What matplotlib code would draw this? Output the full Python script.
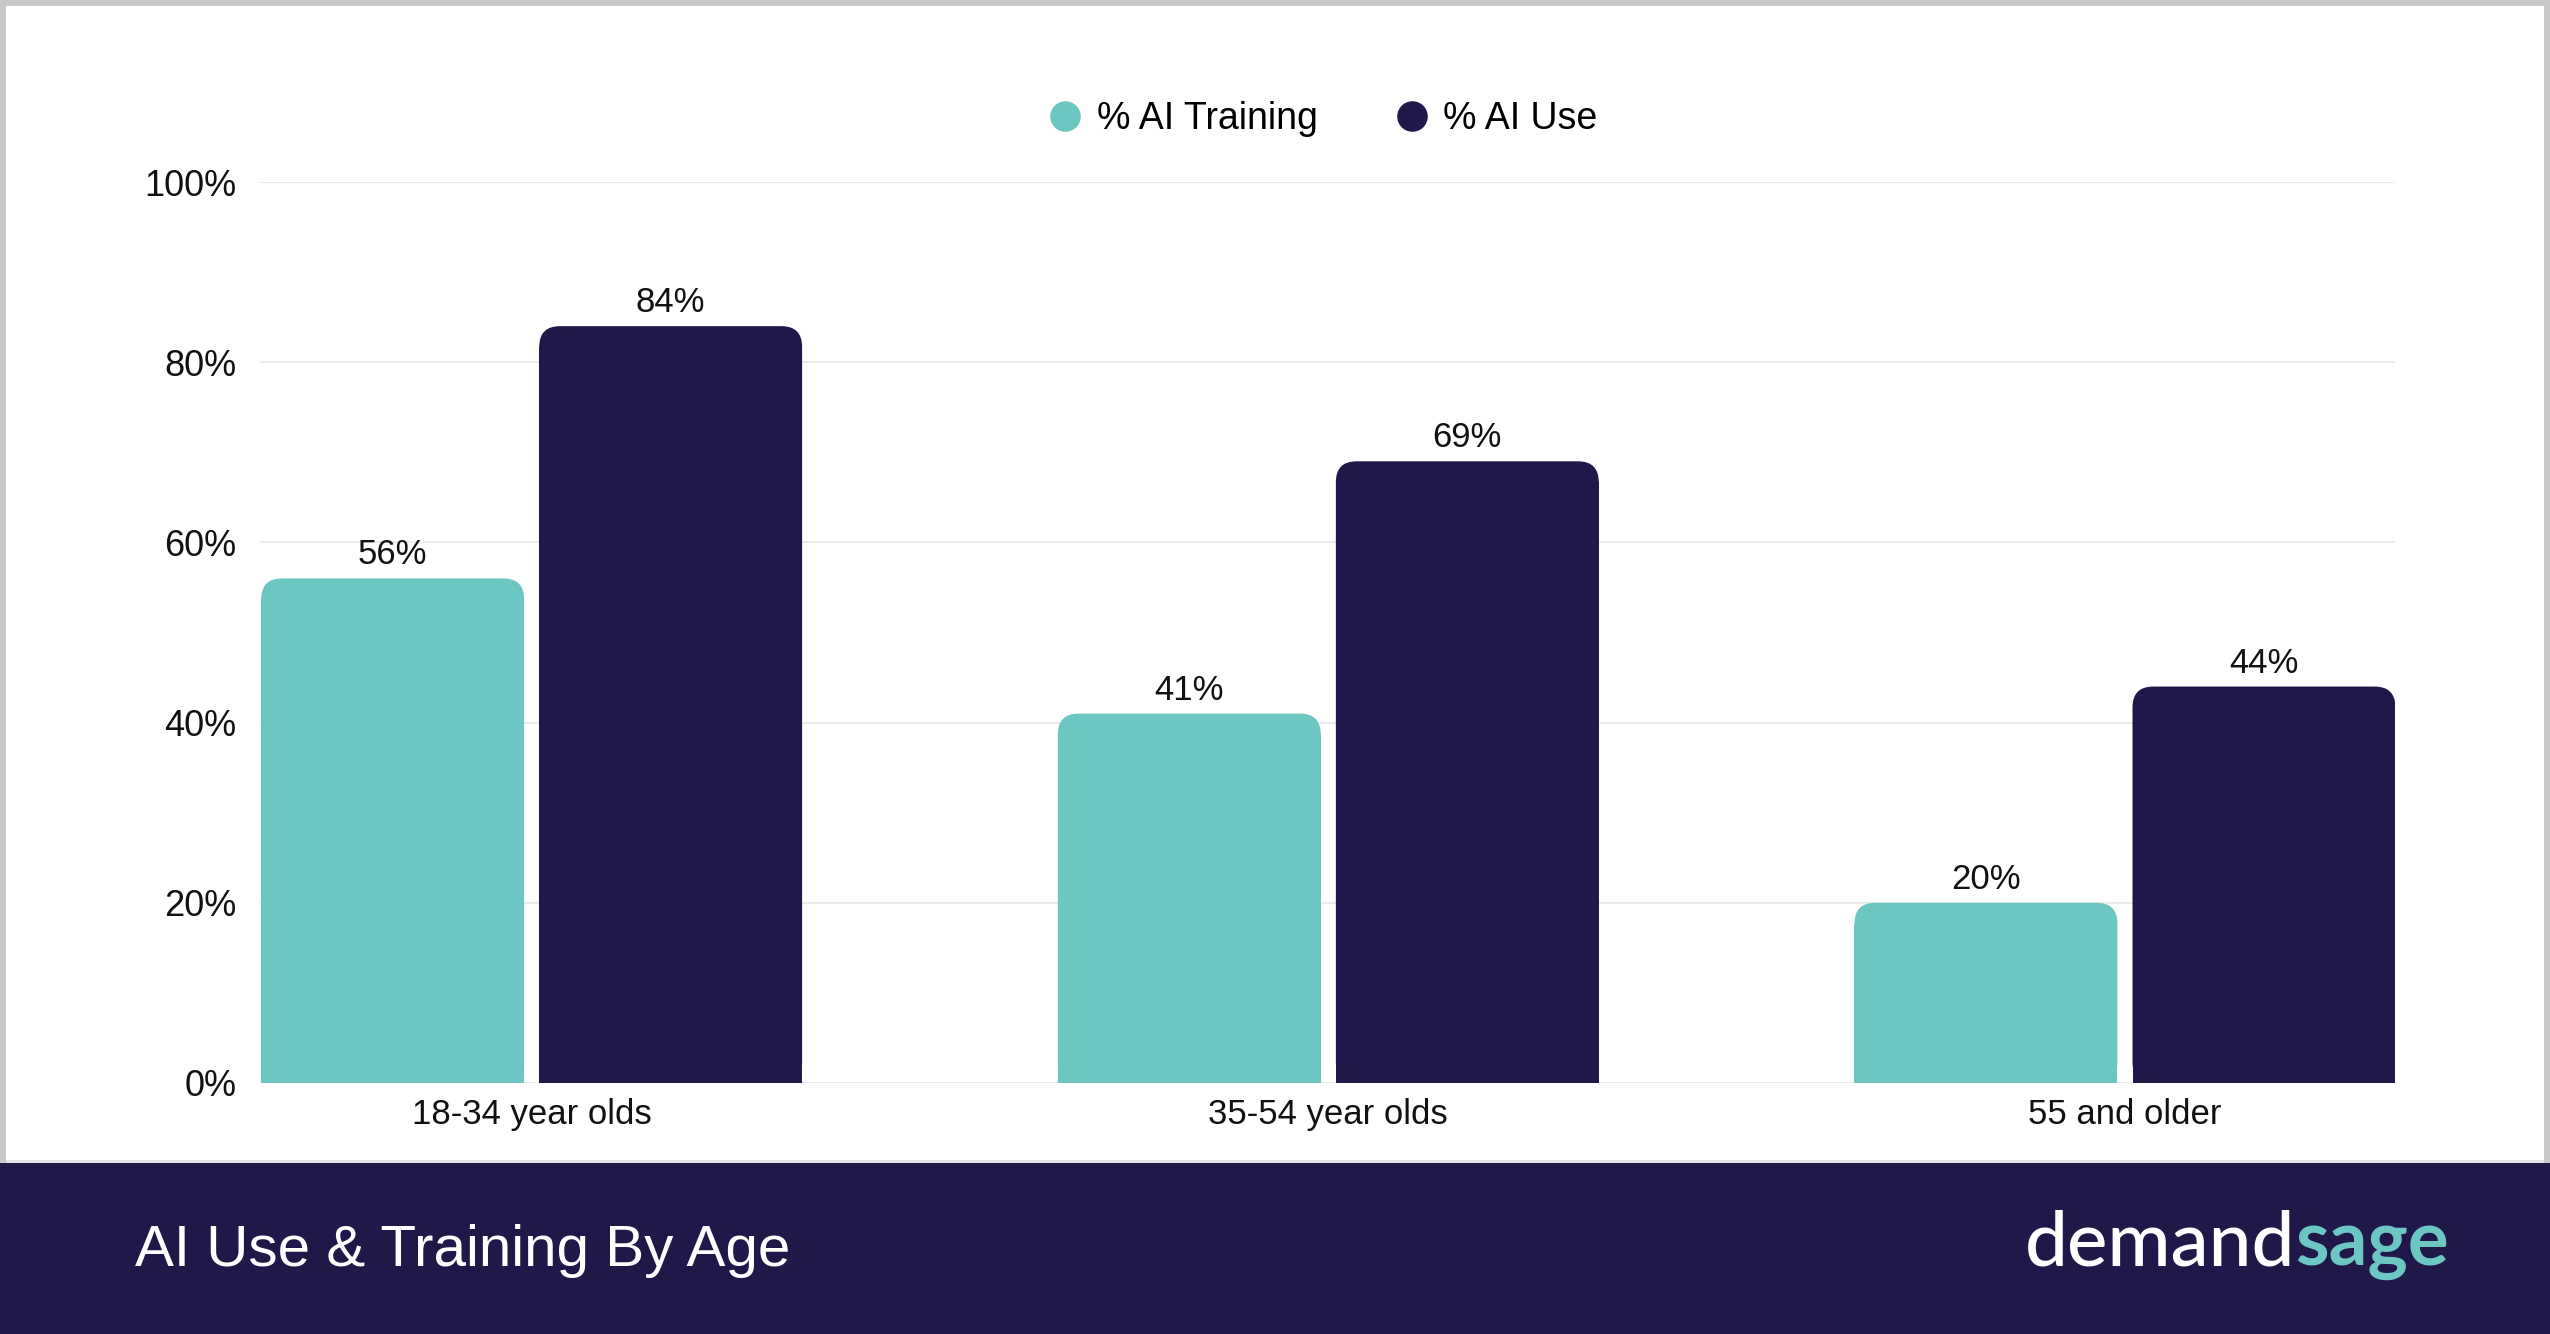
import matplotlib
matplotlib.use("Agg")
import numpy as np
import matplotlib.pyplot as plt
from matplotlib.patches import FancyBboxPatch, Rectangle
from matplotlib.lines import Line2D

plt.rcParams['font.family'] = ['Liberation Sans', 'DejaVu Sans']

# data
categories = ['18-34 year olds', '35-54 year olds', '55 and older']
ai_training = [56, 41, 20]
ai_use = [84, 69, 44]
series_names = ['% AI Training', '% AI Use']
y_ticks = [0, 20, 40, 60, 80, 100]

TEAL = '#6CC6C2'
NAVY = '#1F1849'
GRID = '#EBEBEB'

W, H = 2550, 1334
fig = plt.figure(figsize=(W / 100, H / 100), dpi=100)
fig.patch.set_facecolor('white')

ax = fig.add_axes([260 / W, 1 - 1083 / H, (2395 - 260) / W, (1083 - 182) / H])
ax.set_xlim(-0.341, 2.339)
ax.set_ylim(0, 100)

x = np.arange(len(categories))
bw = 0.33
off = 0.1745
rx = 0.026  # corner radius in x data units
ry = 2.3    # corner radius in y data units


def rounded_bars(xpos, vals, color):
    bars = ax.bar(xpos, vals, width=bw, color=color, zorder=3)
    for rect in bars:
        x0, w, h = rect.get_x(), rect.get_width(), rect.get_height()
        rect.set_height(max(h - ry, 0))
        p = FancyBboxPatch((x0, 0), w, h,
                           boxstyle='round,pad=0,rounding_size=%f' % rx,
                           mutation_aspect=ry / rx, facecolor=color,
                           edgecolor='none', zorder=3)
        ax.add_patch(p)
        ax.annotate('%d%%' % round(h), (x0 + w / 2, h), xytext=(0, 5),
                    textcoords='offset points', ha='center', va='bottom',
                    fontsize=25, color='#111111')
    return bars


rounded_bars(x - off, ai_training, TEAL)
rounded_bars(x + off, ai_use, NAVY)

ax.set_yticks(y_ticks)
ax.set_yticklabels(['%d%%' % v for v in y_ticks])
ax.set_xticks(x)
ax.set_xticklabels(categories)
ax.tick_params(axis='y', length=0, pad=17, labelsize=26, labelcolor='#111111')
ax.tick_params(axis='x', length=0, pad=11, labelsize=25, labelcolor='#111111')
ax.grid(axis='y', color=GRID, linewidth=1.4, zorder=0)
ax.set_axisbelow(True)
for s in ax.spines.values():
    s.set_visible(False)

# legend
handles = [Line2D([], [], marker='o', linestyle='none', markersize=22,
                  markerfacecolor=c, markeredgecolor='none') for c in (TEAL, NAVY)]
fig.legend(handles, series_names, loc='center', ncol=2, frameon=False,
           bbox_to_anchor=(1322 / W, 1 - 119 / H), fontsize=27,
           handletextpad=0.35, columnspacing=2.0, handlelength=1.0)

# footer band
fig.patches.append(Rectangle((0, 0), 1, (H - 1163) / H, transform=fig.transFigure,
                             facecolor=NAVY, edgecolor='none', zorder=0))
fig.patches.append(Rectangle((0, (H - 1163) / H), 1, 3 / H, transform=fig.transFigure,
                             facecolor='#E4E4E8', edgecolor='none', zorder=0))
# outer grey frame
for rx0, ry0, rw, rh in [(0, 0, 6, 1163), (W - 6, 0, 6, 1163), (0, 0, W, 6)]:
    fig.patches.append(Rectangle((rx0 / W, 1 - (ry0 + rh) / H), rw / W, rh / H,
                                 transform=fig.transFigure, facecolor='#C9C9C9',
                                 edgecolor='none', zorder=0))

fig.text(135 / W, 1 - 1266 / H, 'AI Use & Training By Age', color='white',
         fontsize=42, ha='left', va='baseline')

# logo text
t1 = fig.text(2025 / W, 1 - 1265 / H, 'demand', color='white', fontsize=55,
              family=['Lato', 'DejaVu Sans'], weight='medium', ha='left', va='baseline')
fig.canvas.draw()
bb = t1.get_window_extent(renderer=fig.canvas.get_renderer())
fig.text(bb.x1 / W, 1 - 1265 / H, 'sage', color=TEAL, fontsize=55,
         family=['Lato', 'DejaVu Sans'], weight='bold', ha='left', va='baseline')

fig.savefig('out.png', dpi=100, facecolor=fig.get_facecolor())
